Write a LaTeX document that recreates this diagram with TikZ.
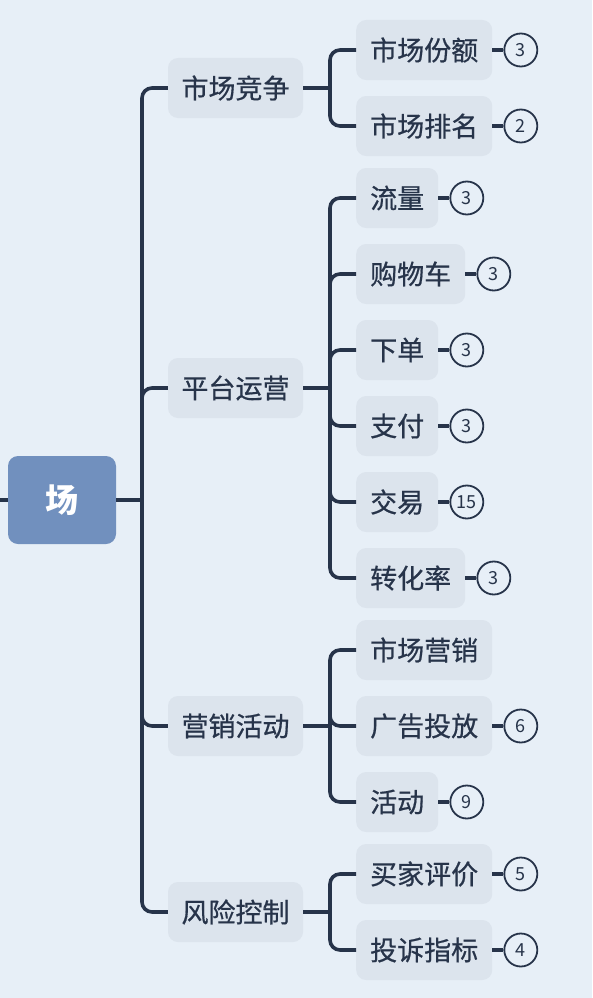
\documentclass[tikz,border=0pt]{standalone}
\usepackage{fontspec}
\newfontfamily\cjk{Noto Sans CJK SC}
\newfontfamily\cjkmid[FakeBold=0.6]{Noto Sans CJK SC}
\usetikzlibrary{positioning}
\definecolor{canvas}{HTML}{E7EFF7}
\definecolor{rootfill}{HTML}{7190BE}
\definecolor{boxfill}{HTML}{DCE4ED}
\definecolor{ink}{HTML}{27344A}

\begin{document}
\begin{tikzpicture}[
  x=1pt, y=-1pt,
  font=\cjk,
  root/.style={
    fill=rootfill,
    rounded corners=10pt,
    minimum width=108pt,
    minimum height=88pt,
    text=white,
    font=\cjk\fontsize{33}{36}\selectfont\bfseries
  },
  topic/.style={
    fill=boxfill,
    rounded corners=10pt,
    minimum width=135pt,
    minimum height=60pt,
    text=ink,
    font=\cjkmid\fontsize{27}{30}\selectfont
  },
  leaf/.style={
    fill=boxfill,
    rounded corners=10pt,
    inner xsep=14pt,
    minimum height=60pt,
    text=ink,
    anchor=west,
    font=\cjkmid\fontsize{27}{30}\selectfont
  },
  count/.style={
    circle,
    draw=ink,
    line width=1.8pt,
    minimum size=33pt,
    inner sep=0pt,
    text=ink,
    font=\cjk\fontsize{18}{20}\selectfont
  },
  link/.style={draw=ink,line width=3.6pt},
  branch/.style={link,rounded corners=10pt}
]
  \useasboundingbox[fill=canvas] (0,0) rectangle (592,998);

  % root and trunk
  \node[root] (root) at (62,500) {场};
  \coordinate (edge) at (0,500);
  \coordinate (trunk) at (142,500);

  % main topics
  \node[topic] (compete) at (235.5,88) {市场竞争};
  \node[topic] (ops) at (235.5,388) {平台运营};
  \node[topic] (promo) at (235.5,726) {营销活动};
  \node[topic] (risk) at (235.5,912) {风险控制};

  \coordinate (b-compete) at (330,88);
  \coordinate (b-ops) at (330,388);
  \coordinate (b-promo) at (330,726);
  \coordinate (b-risk) at (330,912);

  % leaves
  \node[leaf] (share) at (356,50) {市场份额};
  \node[leaf] (rank) at (356,126) {市场排名};
  \node[leaf] (traffic) at (356,198) {流量};
  \node[leaf] (cart) at (356,274) {购物车};
  \node[leaf] (order) at (356,350) {下单};
  \node[leaf] (pay) at (356,426) {支付};
  \node[leaf] (deal) at (356,502) {交易};
  \node[leaf] (conv) at (356,578) {转化率};
  \node[leaf] (mktg) at (356,650) {市场营销};
  \node[leaf] (ads) at (356,726) {广告投放};
  \node[leaf] (event) at (356,802) {活动};
  \node[leaf] (review) at (356,874) {买家评价};
  \node[leaf] (complain) at (356,950) {投诉指标};

  % counters
  \node[count,right=11pt of share] (share-n) {3};
  \node[count,right=11pt of rank] (rank-n) {2};
  \node[count,right=11pt of traffic] (traffic-n) {3};
  \node[count,right=11pt of cart] (cart-n) {3};
  \node[count,right=11pt of order] (order-n) {3};
  \node[count,right=11pt of pay] (pay-n) {3};
  \node[count,right=11pt of deal] (deal-n) {15};
  \node[count,right=11pt of conv] (conv-n) {3};
  \node[count,right=11pt of ads] (ads-n) {6};
  \node[count,right=11pt of event] (event-n) {9};
  \node[count,right=11pt of review] (review-n) {5};
  \node[count,right=11pt of complain] (complain-n) {4};

  % connectors
  \draw[link] (edge) -- (root.west);
  \draw[link] (root.east) -- (trunk);
  \foreach \t in {compete,ops,promo,risk}
    \draw[branch] (trunk) |- (\t.west);

  \foreach \t in {compete,ops,promo,risk}
    \draw[link] (\t.east) -- (b-\t);
  \foreach \l in {share,rank}
    \draw[branch] (b-compete) |- (\l.west);
  \foreach \l in {traffic,cart,order,pay,deal,conv}
    \draw[branch] (b-ops) |- (\l.west);
  \foreach \l in {mktg,ads,event}
    \draw[branch] (b-promo) |- (\l.west);
  \foreach \l in {review,complain}
    \draw[branch] (b-risk) |- (\l.west);

  \foreach \l in {share,rank,traffic,cart,order,pay,deal,conv,ads,event,review,complain}
    \draw[link] (\l.east) -- (\l-n.west);
\end{tikzpicture}
\end{document}
